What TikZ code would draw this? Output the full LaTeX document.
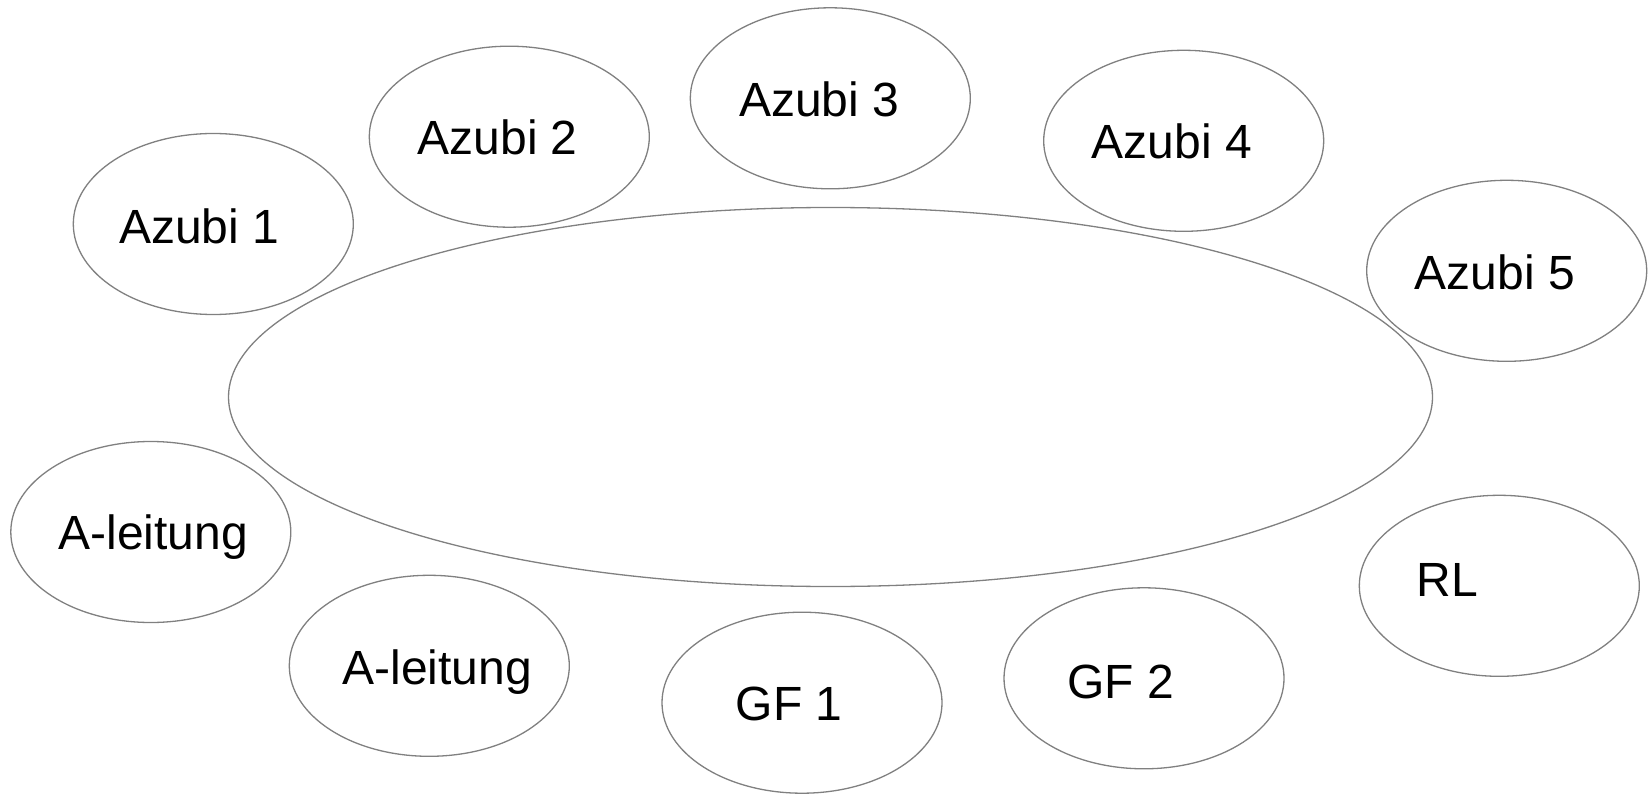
\documentclass[tikz,border=0pt]{standalone}
\usepackage{fontspec}
\setmainfont{Liberation Sans}
\usetikzlibrary{shapes.geometric}
\definecolor{edgegray}{HTML}{808080}
\begin{document}
\begin{tikzpicture}[x=1pt,y=-1pt,
  seat/.style={ellipse, draw=edgegray, line width=1.3pt, minimum width=280pt, minimum height=181pt, inner sep=0pt},
  lbl/.style={anchor=base, inner sep=0pt, font=\fontsize{48}{56}\selectfont}]
\useasboundingbox[fill=white] (0,0) rectangle (1648,794);
\node[seat, minimum width=1204pt, minimum height=379pt] (table) at (830.5,397) {};
\node[seat] (e1) at (213.3,224) {};
\node[seat] (e2) at (509.3,136.7) {};
\node[seat] (e3) at (830.3,98.3) {};
\node[seat] (e4) at (1183.7,140.8) {};
\node[seat] (e5) at (1506.7,270.8) {};
\node[seat] (e6) at (150.8,532) {};
\node[seat] (e7) at (429.3,665.8) {};
\node[seat] (e8) at (802,702.7) {};
\node[seat] (e9) at (1144,678.3) {};
\node[seat] (e10) at (1499.3,585.8) {};
\node[lbl] (t1) at (199.2,243.3) {Azubi 1};
\node[lbl] (t2) at (497.7,155) {Azubi 2};
\node[lbl] (t3) at (819.2,116.7) {Azubi 3};
\node[lbl] (t4) at (1171.7,159) {Azubi 4};
\node[lbl] (t5) at (1494.7,289) {Azubi 5};
\node[lbl] (t6) at (153.3,549.3) {A-leitung};
\node[lbl] (t7) at (437.3,684) {A-leitung};
\node[lbl] (t8) at (789.2,720.7) {GF 1};
\node[lbl] (t9) at (1120.5,698) {GF 2};
\node[lbl] (t10) at (1447.2,596.7) {RL};
\end{tikzpicture}
\end{document}
